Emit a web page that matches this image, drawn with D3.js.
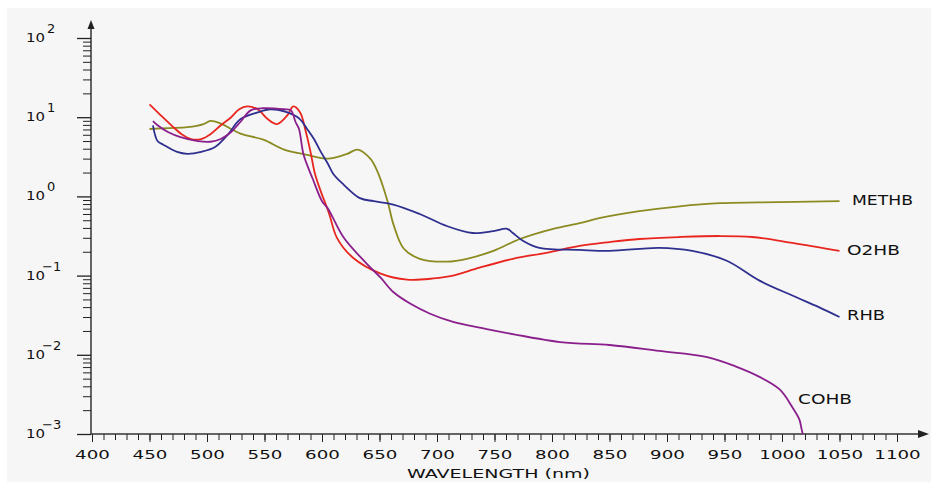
<!DOCTYPE html>
<html>
<head>
<meta charset="utf-8">
<script src="https://cdn.jsdelivr.net/npm/d3@7"></script>
<style>
  body { margin: 0; background: #fff; }
  svg text { font-family: "DejaVu Sans", "Liberation Sans", sans-serif; fill: #111; }
</style>
</head>
<body>
<div id="chart"></div>
<script>

// width and height of the page
var w = 931;
var h = 482;

// wavelengths (nm) and absorbance
var methbWl  = [450, 467, 483, 497, 503, 512, 521, 529, 549, 567, 587, 605, 622, 631, 642, 648, 657, 662, 671, 685, 709, 726, 749, 772, 801, 824, 841, 876, 911, 946, 980, 1050];
var methbVal = [7.1, 7.3, 7.5, 8.2, 9.0, 8.3, 7.1, 6.2, 5.2, 3.9, 3.35, 3.0, 3.45, 3.9, 3.0, 2.1, 0.87, 0.45, 0.22, 0.163, 0.150, 0.163, 0.205, 0.29, 0.39, 0.46, 0.53, 0.65, 0.75, 0.82, 0.84, 0.87];

var o2hbWl  = [450, 458, 469, 478, 486, 495, 503, 512, 521, 528, 535, 544, 553, 561, 570, 575, 581, 586, 590, 594, 599, 606, 613, 627, 651, 674, 697, 714, 737, 766, 795, 824, 850, 876, 911, 946, 974, 1009, 1050];
var o2hbVal = [14.5, 11.2, 7.9, 6.1, 5.3, 5.3, 6.1, 7.9, 10.0, 12.6, 13.7, 12.6, 9.4, 8.2, 10.6, 13.7, 11.5, 6.5, 3.65, 1.9, 1.15, 0.62, 0.30, 0.168, 0.106, 0.089, 0.092, 0.100, 0.126, 0.163, 0.194, 0.237, 0.265, 0.29, 0.307, 0.316, 0.307, 0.259, 0.205];

var rhbWl  = [453, 457, 462, 474, 483, 495, 507, 518, 529, 544, 555, 570, 581, 587, 593, 599, 605, 610, 619, 633, 645, 662, 685, 709, 731, 749, 761, 766, 775, 789, 824, 850, 893, 922, 952, 980, 1009, 1032, 1050];
var rhbVal = [7.9, 5.0, 4.5, 3.65, 3.45, 3.65, 4.2, 6.0, 9.4, 11.5, 12.6, 11.5, 9.4, 7.1, 5.3, 3.65, 2.6, 1.9, 1.4, 0.95, 0.87, 0.79, 0.60, 0.42, 0.345, 0.365, 0.39, 0.345, 0.274, 0.224, 0.211, 0.205, 0.224, 0.205, 0.154, 0.087, 0.056, 0.040, 0.030];

var cohbWl  = [453, 457, 466, 477, 492, 503, 512, 521, 529, 538, 549, 567, 573, 577, 580, 584, 592, 600, 605, 619, 639, 651, 662, 677, 694, 714, 737, 807, 850, 893, 934, 960, 980, 998, 1009, 1015, 1017, 1018];
var cohbVal = [8.9, 7.9, 6.5, 5.6, 5.0, 4.9, 5.3, 6.5, 8.7, 12.2, 13.0, 12.6, 12.2, 8.7, 7.1, 3.35, 1.66, 0.87, 0.71, 0.30, 0.141, 0.094, 0.062, 0.044, 0.033, 0.026, 0.022, 0.0145, 0.0133, 0.0112, 0.0094, 0.0071, 0.0053, 0.00365, 0.00218, 0.00154, 0.00116, 0.001];

var seriesNames = ["METHB", "O2HB", "RHB", "COHB"];
var xTickLabels = [400, 450, 500, 550, 600, 650, 700, 750, 800, 850, 900, 950, 1000, 1050, 1100];
var yExponents = [-3, -2, -1, 0, 1, 2];
var xTitle = "WAVELENGTH  (nm)";

// build the series table from the arrays
function pairs(wl, val) {
  return wl.map(function(d, i) { return { wl: d, v: val[i] }; });
}
var series = [
  { name: seriesNames[0], values: pairs(methbWl, methbVal) },
  { name: seriesNames[1], values: pairs(o2hbWl, o2hbVal) },
  { name: seriesNames[2], values: pairs(rhbWl, rhbVal) },
  { name: seriesNames[3], values: pairs(cohbWl, cohbVal) }
];

// colours and label placement
var colors = { METHB: "#8b8b22", O2HB: "#e8261f", RHB: "#2f2f8f", COHB: "#8a1f8c" };
var labelPos = { METHB: [852, 205], O2HB: [847, 255], RHB: [847, 320], COHB: [798, 404] };
var labelWidth = { METHB: 61, O2HB: 53, RHB: 38, COHB: 54 };

var svg = d3.select("#chart").append("svg")
  .attr("width", w)
  .attr("height", h);

// grey paper
svg.append("rect")
  .attr("x", 7)
  .attr("y", 8)
  .attr("width", w - 7)
  .attr("height", h - 8)
  .attr("fill", "#f6f6f6");

// scales
var xScale = d3.scaleLinear()
  .domain([400, 1100])
  .range([92, 897]);

var yScale = d3.scaleLog()
  .domain([1e-3, 1e2])
  .range([434, 38]);

var x0 = 91, y0 = 434;

// x axis: small ticks every 10 nm
var xMinor = d3.range(400, 1101, 10);
svg.append("g")
  .attr("transform", "translate(0," + y0 + ")")
  .call(d3.axisBottom(xScale).tickValues(xMinor).tickSize(6).tickFormat(""))
  .call(function(g) { g.select(".domain").remove(); })
  .selectAll("line").attr("stroke", "#222");

var xAxisG = svg.append("g")
  .attr("transform", "translate(0," + y0 + ")")
  .call(d3.axisBottom(xScale).tickValues(xTickLabels).tickSize(8).tickPadding(8).tickFormat(d3.format("d")));
xAxisG.select(".domain").remove();
xAxisG.selectAll("line").attr("stroke", "#222");
xAxisG.selectAll("text")
  .attr("font-size", 13)
  .attr("font-family", "DejaVu Sans")
  .attr("fill", "#111")
  .attr("textLength", function(d) { return String(d).length * 11.6; })
  .attr("lengthAdjust", "spacingAndGlyphs");

// axis lines with arrows
svg.append("line")
  .attr("x1", x0).attr("y1", y0).attr("x2", 921).attr("y2", y0)
  .attr("stroke", "#333").attr("stroke-width", 1.5);
svg.append("path")
  .attr("d", "M929," + y0 + " L918," + (y0 - 4) + " L918," + (y0 + 4) + " Z")
  .attr("fill", "#222");

svg.append("line")
  .attr("x1", x0).attr("y1", y0).attr("x2", x0).attr("y2", 27)
  .attr("stroke", "#333").attr("stroke-width", 1.5);
svg.append("path")
  .attr("d", "M" + x0 + ",20 L" + (x0 - 3.5) + ",29 L" + (x0 + 3.5) + ",29 Z")
  .attr("fill", "#222");

// y axis ticks: decades and the 2..9 in between
var yMajor = yExponents.map(function(e) { return Math.pow(10, e); });
var yMinor = [];
yExponents.slice(0, -1).forEach(function(e) {
  for (var k = 2; k <= 9; k++) yMinor.push(k * Math.pow(10, e));
});

svg.append("g")
  .attr("transform", "translate(" + x0 + ",0)")
  .call(d3.axisLeft(yScale).tickValues(yMinor).tickSize(8).tickFormat(""))
  .call(function(g) { g.select(".domain").remove(); })
  .selectAll("line").attr("stroke", "#222");

svg.append("g")
  .attr("transform", "translate(" + x0 + ",0)")
  .call(d3.axisLeft(yScale).tickValues(yMajor).tickSize(14).tickFormat(""))
  .call(function(g) { g.select(".domain").remove(); })
  .selectAll("line").attr("stroke", "#222").attr("stroke-width", 1.3);

// y labels written as 10 with a raised exponent
var yLab = svg.append("g").selectAll("g")
  .data(yExponents)
  .enter()
  .append("g");

yLab.append("text")
  .attr("x", 26)
  .attr("y", function(e) { return yScale(Math.pow(10, e)) + 4; })
  .attr("font-size", 13)
  .attr("textLength", 19)
  .attr("lengthAdjust", "spacingAndGlyphs")
  .text("10");

yLab.append("text")
  .attr("x", function(e) { return e < 0 ? 42 : 47; })
  .attr("y", function(e) { return yScale(Math.pow(10, e)) - 5; })
  .attr("font-size", 13)
  .text(function(e) { return e < 0 ? "\u2212" + Math.abs(e) : String(e); });

// x title
svg.append("text")
  .attr("x", 407)
  .attr("y", 478)
  .attr("font-size", 12)
  .attr("textLength", 183)
  .attr("lengthAdjust", "spacingAndGlyphs")
  .text(xTitle);

// the curves
var line = d3.line()
  .x(function(d) { return xScale(d.wl); })
  .y(function(d) { return yScale(d.v); })
  .curve(d3.curveCatmullRom.alpha(0.5));

svg.selectAll(".curve")
  .data(series)
  .enter()
  .append("path")
  .attr("class", "curve")
  .attr("fill", "none")
  .attr("stroke", function(d) { return colors[d.name]; })
  .attr("stroke-width", 1.8)
  .attr("stroke-linejoin", "round")
  .attr("d", function(d) { return line(d.values); });

// series names
svg.selectAll(".name")
  .data(series)
  .enter()
  .append("text")
  .attr("class", "name")
  .attr("x", function(d) { return labelPos[d.name][0]; })
  .attr("y", function(d) { return labelPos[d.name][1]; })
  .attr("font-size", 14)
  .attr("textLength", function(d) { return labelWidth[d.name]; })
  .attr("lengthAdjust", "spacingAndGlyphs")
  .text(function(d) { return d.name; });

</script>
</body>
</html>
